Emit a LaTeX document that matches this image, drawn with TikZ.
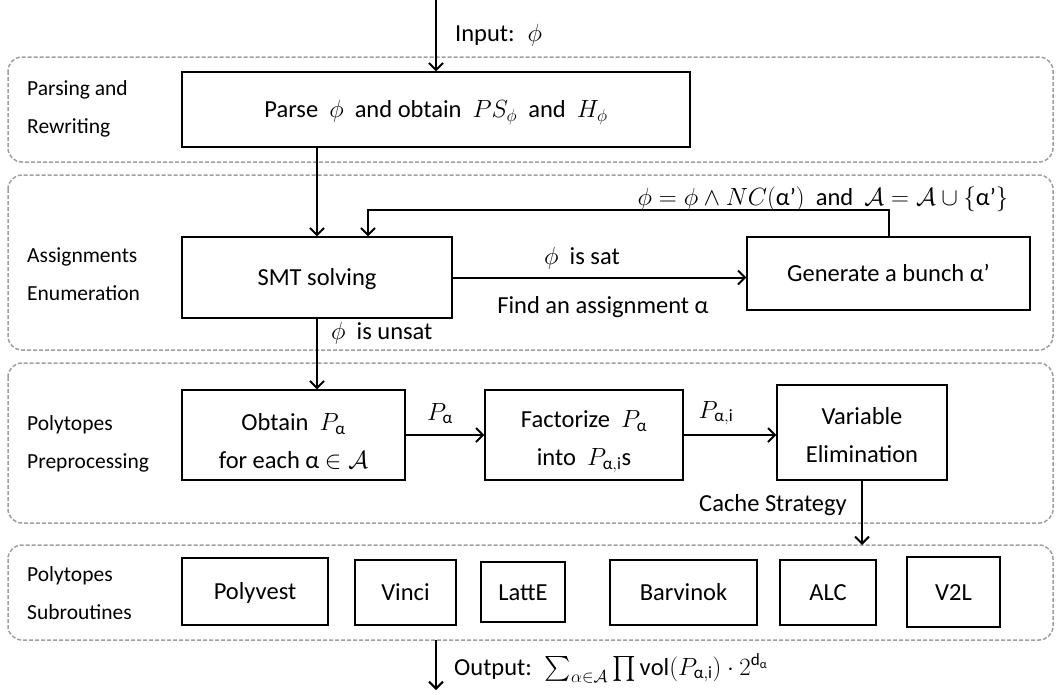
\documentclass[tikz,border=0pt]{standalone}
\usepackage{amsmath}
\usepackage{fontspec}
\setmainfont{Carlito}
\usetikzlibrary{arrows.meta}
\newcommand{\al}{\text{α}}
\newcommand{\topstrut}[1]{\rule{0pt}{#1}}
\tikzset{
  grp/.style={draw=gray!75, dashed, dash pattern=on 4pt off 2pt, line width=1.5pt, rounded corners=14pt},
  blk/.style={draw, line width=1.2pt, inner sep=0pt, align=center, font=\fontsize{24.5}{38}\selectfont},
  one/.style={text height=17pt, text depth=1pt},
  side/.style={anchor=west, align=left, inner sep=0pt, font=\fontsize{21.5}{38}\selectfont},
  lbl/.style={inner sep=0pt, text height=17pt, text depth=1pt, font=\fontsize{24.5}{30}\selectfont},
  arr/.style={line width=2pt, -{Straight Barb[length=7pt,width=14pt,line width=2pt]}}
}
\begin{document}
\begin{tikzpicture}[x=1pt,y=-1pt]
\useasboundingbox (0,0) rectangle (1057,694);
% groups
\draw[grp] (8,57) rectangle (1053,162);
\draw[grp] (8,175) rectangle (1053,350);
\draw[grp] (8,363) rectangle (1053,523);
\draw[grp] (8,545) rectangle (1053,640);
% side labels
\node[side] (l1) at (27,109) {Parsing and\\Rewriting};
\node[side] (l2) at (27,274) {Assignments\\Enumeration};
\node[side] (l3) at (27,444) {Polytopes\\Preprocessing};
\node[side] (l4) at (27,593) {Polytopes\\Subroutines};
% boxes
\node[blk, one, minimum width=508pt, minimum height=75pt] (parse) at (436,109.5) {Parse \ $\phi$ \ and obtain \ $PS_\phi$ \ and \ $H_\phi$};
\node[blk, one, minimum width=270pt, minimum height=81pt] (smt) at (317,277.5) {SMT solving};
\node[blk, one, minimum width=283pt, minimum height=73pt] (gen) at (888.5,273.5) {Generate a bunch α'};
\node[blk, minimum width=223pt, minimum height=90pt] (obt) at (293.5,435) {\topstrut{30pt}Obtain \ $P_{\al}$\\for each α $\in\mathcal{A}$};
\node[blk, minimum width=198pt, minimum height=90pt] (fac) at (584,435) {\topstrut{30pt}Factorize \ $P_{\al}$\\into \ $P_{\al,\mathrm{i}}$s};
\node[blk, minimum width=170pt, minimum height=95pt] (var) at (862,432.5) {\topstrut{22pt}Variable\\Elimination};
\node[blk, one, minimum width=146pt, minimum height=67pt] (s1) at (255,591.5) {Polyvest};
\node[blk, one, minimum width=101pt, minimum height=65pt] (s2) at (405.5,592.5) {Vinci};
\node[blk, one, minimum width=84pt, minimum height=60pt] (s3) at (523,592) {LattE};
\node[blk, one, minimum width=147pt, minimum height=65pt] (s4) at (683.5,592.5) {Barvinok};
\node[blk, one, minimum width=96pt, minimum height=65pt] (s5) at (828,592.5) {ALC};
\node[blk, one, minimum width=93pt, minimum height=70pt] (s6) at (953.5,592) {V2L};
% coordinates
\coordinate (in) at (436,0);
\coordinate (g4) at (862,545);
\coordinate (o1) at (436,640);
\coordinate (o2) at (436,690);
\coordinate (fbx) at (368,210);
% connectors
\draw[arr] (in) -- (parse.north);
\draw[arr] (smt.north |- parse.south) -- (smt.north);
\draw[arr] (smt.east) -- (smt.east -| gen.west);
\draw[arr] (gen.north) |- (fbx) -- (fbx |- smt.north);
\draw[arr] (smt.south) -- (smt.south |- obt.north);
\draw[arr] (obt.east) -- (fac.west);
\draw[arr] (fac.east) -- (fac.east -| var.west);
\draw[arr] (var.south) -- (g4);
\draw[arr] (o1) -- (o2);
% labels
\node[lbl, anchor=west] (tin) at (455,33) {Input: \ $\phi$};
\node[lbl] (tfb) at (823,197) {$\phi=\phi\wedge NC(\text{α'})$ \ and \ $\mathcal{A}=\mathcal{A}\cup\{\text{α'}\}$};
\node[lbl] (tsat) at (582,256) {$\phi$ \ is sat};
\node[lbl] (tfind) at (603,305) {Find an assignment α};
\node[lbl, anchor=west] (tuns) at (331,331) {$\phi$ \ is unsat};
\node[lbl] (tpa) at (440,412) {$P_{\al}$};
\node[lbl] (tpai) at (716,410) {$P_{\al,\mathrm{i}}$};
\node[lbl] (tcache) at (773,503) {Cache Strategy};
\node[lbl, anchor=west] (tout) at (454,667) {Output: \ $\sum_{\alpha\in\mathcal{A}}\prod\mathrm{vol}(P_{\al,\mathrm{i}})\cdot 2^{\mathrm{d}_{\al}}$};
\end{tikzpicture}
\end{document}
